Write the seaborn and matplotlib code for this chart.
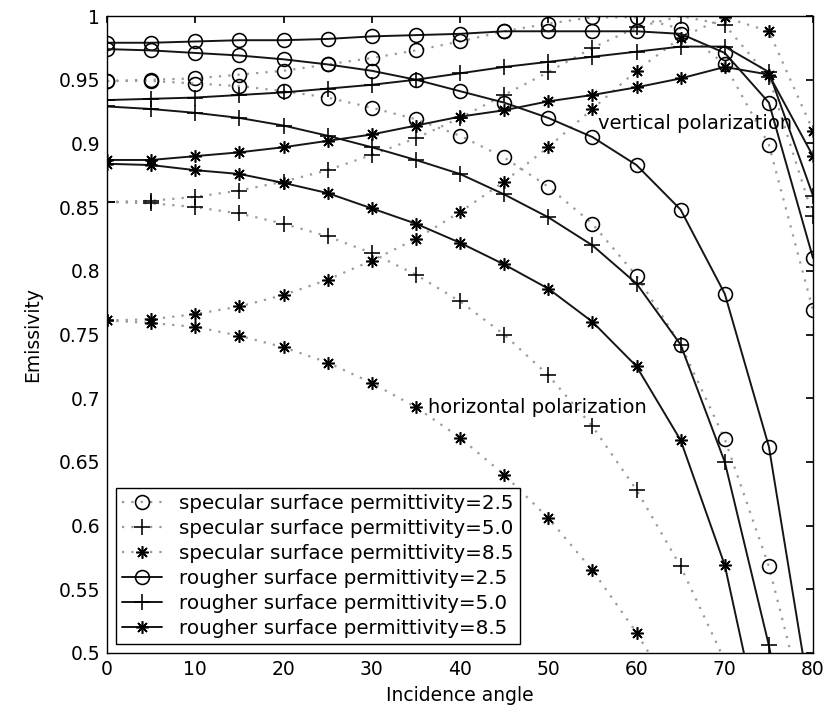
import numpy as np
import pandas as pd
import matplotlib
matplotlib.use("Agg")
import matplotlib.pyplot as plt
from matplotlib.ticker import FuncFormatter, MultipleLocator
import seaborn as sns

# ---------------- data ----------------
angles = [0, 5, 10, 15, 20, 25, 30, 35, 40, 45, 50, 55, 60, 65, 70, 75, 80]

# specular surface
spec_v_25 = [0.949, 0.950, 0.951, 0.954, 0.957, 0.962, 0.967, 0.973, 0.980, 0.988, 0.994, 0.999, 0.999, 0.990, 0.962, 0.899, 0.769]
spec_h_25 = [0.949, 0.949, 0.947, 0.945, 0.941, 0.936, 0.928, 0.919, 0.906, 0.889, 0.866, 0.837, 0.796, 0.742, 0.668, 0.568, 0.432]
spec_v_50 = [0.854, 0.855, 0.858, 0.863, 0.870, 0.879, 0.891, 0.904, 0.920, 0.938, 0.956, 0.975, 0.991, 1.000, 0.993, 0.952, 0.843]
spec_h_50 = [0.854, 0.853, 0.850, 0.845, 0.837, 0.827, 0.814, 0.797, 0.776, 0.750, 0.718, 0.678, 0.628, 0.568, 0.494, 0.403, 0.293]
spec_v_85 = [0.761, 0.762, 0.766, 0.772, 0.781, 0.793, 0.808, 0.825, 0.846, 0.870, 0.897, 0.927, 0.957, 0.983, 0.999, 0.988, 0.910]
spec_h_85 = [0.761, 0.759, 0.756, 0.749, 0.740, 0.728, 0.712, 0.693, 0.669, 0.640, 0.606, 0.565, 0.516, 0.459, 0.392, 0.314, 0.224]

# rougher surface
rough_v_25 = [0.979, 0.979, 0.980, 0.981, 0.981, 0.982, 0.984, 0.985, 0.986, 0.988, 0.988, 0.988, 0.988, 0.986, 0.971, 0.932, 0.810]
rough_h_25 = [0.974, 0.973, 0.971, 0.969, 0.966, 0.962, 0.957, 0.950, 0.941, 0.932, 0.920, 0.905, 0.883, 0.848, 0.782, 0.662, 0.450]
rough_v_50 = [0.934, 0.935, 0.936, 0.938, 0.940, 0.943, 0.946, 0.950, 0.955, 0.960, 0.964, 0.968, 0.972, 0.976, 0.976, 0.956, 0.859]
rough_h_50 = [0.929, 0.927, 0.924, 0.920, 0.914, 0.906, 0.897, 0.887, 0.876, 0.860, 0.842, 0.820, 0.790, 0.742, 0.650, 0.506, 0.330]
rough_v_85 = [0.887, 0.887, 0.890, 0.893, 0.897, 0.902, 0.907, 0.914, 0.921, 0.926, 0.933, 0.938, 0.944, 0.951, 0.960, 0.954, 0.890]
rough_h_85 = [0.884, 0.883, 0.879, 0.876, 0.869, 0.861, 0.849, 0.837, 0.822, 0.805, 0.786, 0.760, 0.725, 0.667, 0.569, 0.410, 0.220]

legend_labels = [
    "specular surface permittivity=2.5",
    "specular surface permittivity=5.0",
    "specular surface permittivity=8.5",
    "rougher surface permittivity=2.5",
    "rougher surface permittivity=5.0",
    "rougher surface permittivity=8.5",
]
x_ticks = [0, 10, 20, 30, 40, 50, 60, 70, 80]
x_label = "Incidence angle"
y_label = "Emissivity"
text_vertical = "vertical polarization"
text_horizontal = "horizontal polarization"

# ---------------- style ----------------
sns.set_theme(style="white")
plt.rcParams["font.family"] = ["DejaVu Sans"]
plt.rcParams.update({
    "xtick.direction": "in", "ytick.direction": "in",
    "xtick.top": True, "ytick.right": True,
    "xtick.major.size": 5, "ytick.major.size": 5,
    "xtick.color": "black", "ytick.color": "black",
    "xtick.labelcolor": "black", "ytick.labelcolor": "black",
    "text.color": "black", "axes.labelcolor": "black",
    "axes.edgecolor": "black", "axes.linewidth": 1.0,
})

fig = plt.figure(figsize=(8.3, 7.12), dpi=100)
ax = fig.add_axes([107 / 830, 59 / 712, 706 / 830, 637 / 712])

asterisk = (8, 2, 0)
markers = ["o", "+", asterisk]
msizes = [10, 12, 9]
spec_series = [(spec_v_25, spec_h_25), (spec_v_50, spec_h_50), (spec_v_85, spec_h_85)]
rough_series = [(rough_v_25, rough_h_25), (rough_v_50, rough_h_50), (rough_v_85, rough_h_85)]

dot_style = (0, (1, 3.2))
spec_color = "#9a9a9a"
rough_color = "#151515"

def draw(values, label, marker, ms, ls, color):
    df = pd.DataFrame({"angle": angles, "e": values})
    sns.lineplot(data=df, x="angle", y="e", ax=ax, estimator=None, sort=False,
                 color=color, linestyle=ls, linewidth=1.4 if ls == "-" else 1.6,
                 marker=marker, markersize=ms, markerfacecolor="none",
                 markeredgecolor="black", markeredgewidth=1.15,
                 label=label, clip_on=True)

for i, (v, h) in enumerate(spec_series):
    draw(v, legend_labels[i], markers[i], msizes[i], dot_style, spec_color)
    draw(h, "_nolegend_", markers[i], msizes[i], dot_style, spec_color)
for i, (v, h) in enumerate(rough_series):
    draw(v, legend_labels[3 + i], markers[i], msizes[i], "-", rough_color)
    draw(h, "_nolegend_", markers[i], msizes[i], "-", rough_color)

ax.set_xlim(0, 80)
ax.set_ylim(0.5, 1.0)
ax.set_xticks(x_ticks)
ax.yaxis.set_major_locator(MultipleLocator(0.05))
ax.yaxis.set_major_formatter(FuncFormatter(lambda v, p: "%g" % round(v, 3)))
ax.tick_params(labelsize=13.5, pad=5)
ax.set_xlabel(x_label, fontsize=13.5, labelpad=5)
ax.set_ylabel(y_label, fontsize=13.5, labelpad=12)
for s in ax.spines.values():
    s.set_visible(True)
    s.set_color("black")

ax.text(55.6, 0.916, text_vertical, fontsize=14, va="center", ha="left")
ax.text(36.4, 0.693, text_horizontal, fontsize=14, va="center", ha="left")

handles, labels = ax.get_legend_handles_labels()
leg = ax.legend(handles, labels, loc="lower left", fontsize=14.3, frameon=True,
                fancybox=False, edgecolor="black", framealpha=1,
                labelspacing=0.3, handlelength=2.0, handletextpad=0.9,
                borderpad=0.3, borderaxespad=0.45)
leg.get_frame().set_linewidth(1.0)

fig.savefig("out.png", dpi=100)
